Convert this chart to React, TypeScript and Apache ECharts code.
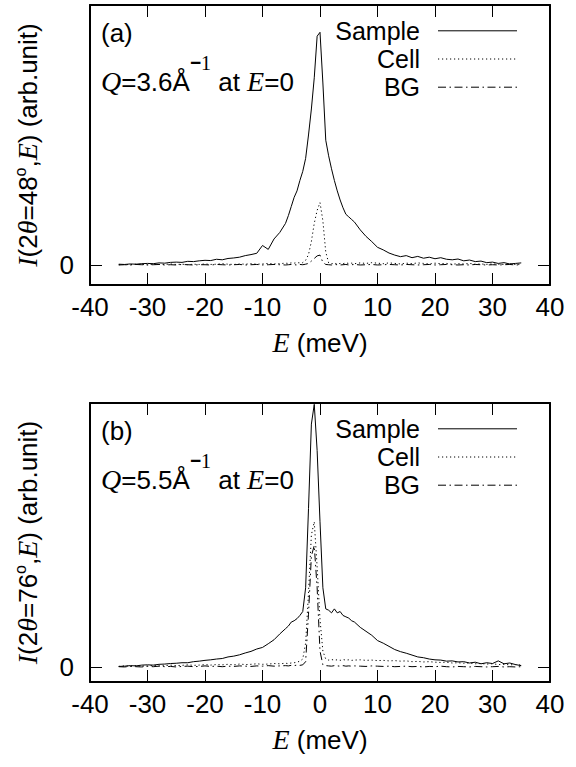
import React, { useEffect, useRef } from "react";
import * as echarts from "echarts";

const SANS = '"Liberation Sans", Arial, Helvetica, sans-serif';
const SERIF = '"Liberation Serif", "Times New Roman", Times, serif';

// Energy transfer grid (meV)
const energy = [
  -35, -34, -33, -32, -31, -30, -29, -28, -27, -26, -25, -24, -23, -22, -21, -20, -19, -18, -17, -16, -15, -14, -13, -12, -11, -10, -9, -8, -7, -6,
  -5.5, -5, -4.5, -4, -3.5, -3, -2.5, -2, -1.5, -1, -0.5, 0, 0.5, 1, 1.5, 2, 2.5, 3, 3.5, 4, 4.5, 5, 5.5,
  6, 7, 8, 9, 10, 11, 12, 13, 14, 15, 16, 17, 18, 19, 20, 21, 22, 23, 24, 25, 26, 27, 28, 29, 30, 31, 32, 33, 34, 35,
];

// Panel (a): 2θ = 48°
const sampleA = [
  0.3, 0.2, 0.4, 0.3, 0.5, 0.6, 0.5, 0.8, 0.7, 1.0, 1.1, 1.0, 1.4, 1.3, 1.6, 1.8, 1.7, 2.2, 2.0, 2.5, 2.7, 3.0, 3.6, 4.0, 4.5, 7.5, 6.0, 10, 12.5, 16,
  19, 22.5, 26, 28.5, 32.5, 36, 41, 50, 60, 72, 88, 89.5, 70, 48, 42, 37, 32.5, 28.5, 25, 22, 19.5, 18.5, 17.5,
  16.5, 13.5, 11, 9, 6.8, 5.8, 4.6, 3.8, 3.2, 3.6, 2.8, 3.3, 2.6, 3.0, 2.4, 2.8, 2.2, 2.0, 2.3, 1.6, 1.9, 1.3, 1.5, 0.9, 1.1, 0.6, 0.9, 0.4, 0.6, 0.8,
];
const cellA = [
  0.1, 0.2, 0.1, 0.3, 0.2, 0.1, 0.3, 0.2, 0.2, 0.4, 0.2, 0.3, 0.1, 0.3, 0.2, 0.4, 0.2, 0.3, 0.5, 0.3, 0.2, 0.4, 0.3, 0.5, 0.3, 0.4, 0.6, 0.4, 0.5, 0.7,
  0.6, 0.8, 0.7, 0.9, 0.8, 0.9, 1.8, 4, 9, 16, 21, 24, 17, 5, 0.8, 0.5, 0.7, 0.4, 0.6, 0.5, 0.8, 0.6, 0.7,
  0.5, 0.8, 0.6, 0.9, 0.7, 0.5, 0.8, 0.6, 0.4, 0.7, 0.5, 0.8, 0.6, 0.4, 0.7, 0.5, 0.6, 0.3, 0.5, 0.4, 0.6, 0.3, 0.4, 0.2, 0.4, 0.3, 0.2, 0.4, 0.2, 0.3,
];
const bgA = [
  0.0, 0.1, 0.0, 0.2, 0.1, 0.0, 0.1, 0.2, 0.0, 0.1, 0.0, 0.2, 0.1, 0.0, 0.1, 0.1, 0.0, 0.2, 0.1, 0.0, 0.1, 0.2, 0.0, 0.1, 0.2, 0.0, 0.1, 0.2, 0.1, 0.0,
  0.1, 0.2, 0.1, 0.0, 0.2, 0.1, 0.3, 0.6, 1.5, 2.5, 3.5, 3.8, 1.0, 0.2, 0.1, 0.0, 0.2, 0.1, 0.0, 0.1, 0.2, 0.0, 0.1,
  0.2, 0.0, 0.1, 0.2, 0.0, 0.1, 0.2, 0.1, 0.0, 0.2, 0.1, 0.0, 0.1, 0.2, 0.0, 0.1, 0.2, 0.1, 0.0, 0.1, 0.0, 0.2, 0.1, 0.0, 0.1, 0.0, 0.1, 0.2, 0.0, 0.1,
];

// Panel (b): 2θ = 76°
const sampleB = [
  0.2, 0.3, 0.5, 0.4, 0.7, 0.8, 0.7, 1.0, 1.1, 1.3, 1.4, 1.6, 1.6, 2.0, 2.2, 2.5, 2.7, 3.0, 3.2, 3.8, 4.1, 4.6, 5.3, 5.9, 6.8, 7.4, 8.8, 10.3, 12.5, 14.5,
  15.5, 17.0, 17.5, 18.3, 19.5, 21, 30, 60, 92, 99.5, 82, 55, 30, 22, 21.5, 20.5, 22, 20.5, 21, 19.5, 19, 18.5, 17.5,
  17, 15, 13.5, 12, 10, 9, 7.8, 6.6, 5.8, 5.2, 4.5, 3.8, 3.5, 3.0, 2.7, 2.6, 2.2, 2.3, 1.9, 2.0, 1.5, 1.8, 1.2, 1.6, 1.3, 2.3, 1.2, 1.5, 0.9, 0.5,
];
const cellB = [
  0.2, 0.4, 0.3, 0.5, 0.3, 0.4, 0.6, 0.4, 0.5, 0.7, 0.5, 0.6, 0.8, 0.6, 0.7, 0.9, 0.7, 0.9, 0.8, 1.0, 0.8, 1.1, 0.9, 1.0, 1.2, 1.0, 1.1, 1.3, 1.2, 1.4,
  1.3, 1.5, 1.6, 1.8, 2.2, 3, 9, 28, 50, 55, 38, 18, 6, 3, 2.6, 2.8, 2.6, 2.7, 2.5, 2.8, 2.6, 2.7, 2.5,
  2.6, 2.7, 2.5, 2.6, 2.4, 2.5, 2.3, 2.4, 2.2, 2.3, 2.0, 2.1, 1.9, 2.0, 1.8, 1.7, 1.8, 1.5, 1.6, 1.4, 1.5, 1.2, 1.3, 1.1, 1.2, 0.9, 1.0, 0.8, 0.9, 0.7,
];
const bgB = [
  0.1, 0.0, 0.2, 0.1, 0.0, 0.2, 0.1, 0.3, 0.1, 0.2, 0.0, 0.2, 0.3, 0.1, 0.2, 0.4, 0.2, 0.3, 0.1, 0.3, 0.2, 0.4, 0.3, 0.2, 0.4, 0.3, 0.5, 0.3, 0.4, 0.5,
  0.4, 0.6, 0.5, 0.7, 0.6, 0.8, 2, 20, 42, 46, 30, 6, 0.8, 0.5, 0.4, 0.3, 0.5, 0.4, 0.3, 0.5, 0.3, 0.4, 0.3,
  0.4, 0.3, 0.2, 0.4, 0.3, 0.2, 0.3, 0.1, 0.2, 0.3, 0.1, 0.2, 0.0, 0.2, 0.1, 0.3, 0.1, 0.0, 0.2, 0.1, 0.0, 0.2, 0.1, 0.0, 0.1, 0.2, 0.0, 0.1, 0.0, 0.1,
];

const seriesNames = ["Sample", "Cell", "BG"];
const panelTags = ["(a)", "(b)"];
const qValues = ["3.6", "5.5"];
const angles = ["48", "76"];
const yMins = [-7.7, -5.7];
const yMax = 100;

const lineTypes: any[] = ["solid", [1.2, 2.8], [8, 3.5, 1.5, 3.5]];

const GRID_LEFT = 90;
const GRID_RIGHT = 26;
const FS = 26;
const LEG_FS = 25;
const panels = [
  { top: 5, height: 280, data: [sampleA, cellA, bgA] },
  { top: 403, height: 279, data: [sampleB, cellB, bgB] },
];

const pairs = (vals: number[]) => energy.map((e, i) => [e, vals[i]]);

export default function App() {
  const ref = useRef<HTMLDivElement>(null);

  useEffect(() => {
    if (!ref.current) return;
    const chart = echarts.init(ref.current, null, { renderer: "svg" });

    const grids: any[] = [];
    const xAxes: any[] = [];
    const yAxes: any[] = [];
    const series: any[] = [];
    const graphics: any[] = [];

    const nameRich = {
      it: { fontFamily: SERIF, fontStyle: "italic", fontSize: FS + 2, color: "#000", lineHeight: 29, verticalAlign: "bottom" },
      n: { fontFamily: SANS, fontSize: FS, color: "#000", lineHeight: 29, verticalAlign: "bottom" },
      sup: { fontFamily: SANS, fontSize: 16, color: "#000", verticalAlign: "top" },
    };

    panels.forEach((p, k) => {
      grids.push({ left: GRID_LEFT, right: GRID_RIGHT, top: p.top, height: p.height, containLabel: false });

      const frame = { onZero: false, lineStyle: { color: "#000", width: 2 } };
      const tick = { inside: true, length: 12, lineStyle: { color: "#000", width: 1 } };

      xAxes.push({
        type: "value",
        gridIndex: k,
        position: "bottom",
        min: -40,
        max: 40,
        interval: 10,
        axisLine: frame,
        axisTick: tick,
        axisLabel: { color: "#000", fontSize: FS, fontFamily: SANS, margin: 9 },
        splitLine: { show: false },
        name: "{it|E}{n| (meV)}",
        nameLocation: "middle",
        nameGap: 42,
        nameTextStyle: { rich: nameRich },
      });
      xAxes.push({
        type: "value",
        gridIndex: k,
        position: "top",
        min: -40,
        max: 40,
        interval: 10,
        axisLine: frame,
        axisTick: tick,
        axisLabel: { show: false },
        splitLine: { show: false },
      });
      yAxes.push({
        type: "value",
        gridIndex: k,
        position: "left",
        min: yMins[k],
        max: yMax,
        axisLine: { show: true, ...frame },
        axisTick: { show: true, ...tick, customValues: [0] },
        axisLabel: { color: "#000", fontSize: FS, fontFamily: SANS, margin: 16, customValues: [0] },
        splitLine: { show: false },
        name: `{it|I}{n|(2}{it|θ}{n|=${angles[k]}}{sup|o}{n|,}{it|E}{n|) (arb.unit)}`,
        nameLocation: "middle",
        nameRotate: 90,
        nameGap: 49,
        nameTextStyle: { rich: nameRich },
      });
      yAxes.push({
        type: "value",
        gridIndex: k,
        position: "right",
        min: yMins[k],
        max: yMax,
        axisLine: { show: true, ...frame },
        axisTick: { show: true, ...tick, customValues: [0] },
        axisLabel: { show: false },
        splitLine: { show: false },
      });

      p.data.forEach((vals, s) => {
        series.push({
          type: "line",
          name: seriesNames[s],
          xAxisIndex: 2 * k,
          yAxisIndex: 2 * k,
          data: pairs(vals),
          showSymbol: false,
          symbol: "none",
          lineStyle: { color: "#000", width: 1, type: lineTypes[s] },
          z: 3 - s,
        });
      });

      const baseY = p.top;
      graphics.push({
        type: "text",
        x: 101,
        y: baseY + 28,
        style: { text: panelTags[k], fontFamily: SANS, fontSize: FS, lineHeight: 26, fill: "#000", textVerticalAlign: "middle" },
      });
      graphics.push({
        type: "text",
        x: 101,
        y: baseY + 48,
        style: {
          text: `{q|Q}{n|=${qValues[k]}Å}{sm|−}{s1|1}{n| at }{q|E}{n|=0}`,
          textVerticalAlign: "top",
          rich: {
            q: { fontFamily: SERIF, fontStyle: "italic", fontSize: FS + 2, fill: "#000", lineHeight: 42, verticalAlign: "bottom" },
            n: { fontFamily: SANS, fontSize: FS, fill: "#000", lineHeight: 42, verticalAlign: "bottom" },
            sm: { fontFamily: SANS, fontSize: 19, fontWeight: "bold", fill: "#000", verticalAlign: "top" },
            s1: { fontFamily: SERIF, fontSize: 20, fill: "#000", verticalAlign: "top" },
          },
        },
      });
      seriesNames.forEach((nm, s) => {
        const yy = baseY + 25.8 + s * 28.2;
        graphics.push({
          type: "text",
          x: 420,
          y: yy,
          style: {
            text: nm,
            fontFamily: SANS,
            fontSize: LEG_FS,
            lineHeight: 24,
            fill: "#000",
            textAlign: "right",
            textVerticalAlign: "middle",
          },
        });
        graphics.push({
          type: "line",
          shape: { x1: 438, y1: yy, x2: 517, y2: yy },
          style: { stroke: "#000", lineWidth: 1, lineDash: Array.isArray(lineTypes[s]) ? lineTypes[s] : null },
        });
      });
    });

    chart.setOption({
      animation: false,
      backgroundColor: "#fff",
      grid: grids,
      xAxis: xAxes,
      yAxis: yAxes,
      series,
      graphic: graphics,
    });

    return () => chart.dispose();
  }, []);

  return <div ref={ref} style={{ position: "fixed", left: 0, top: 0, width: 576, height: 767 }} />;
}
